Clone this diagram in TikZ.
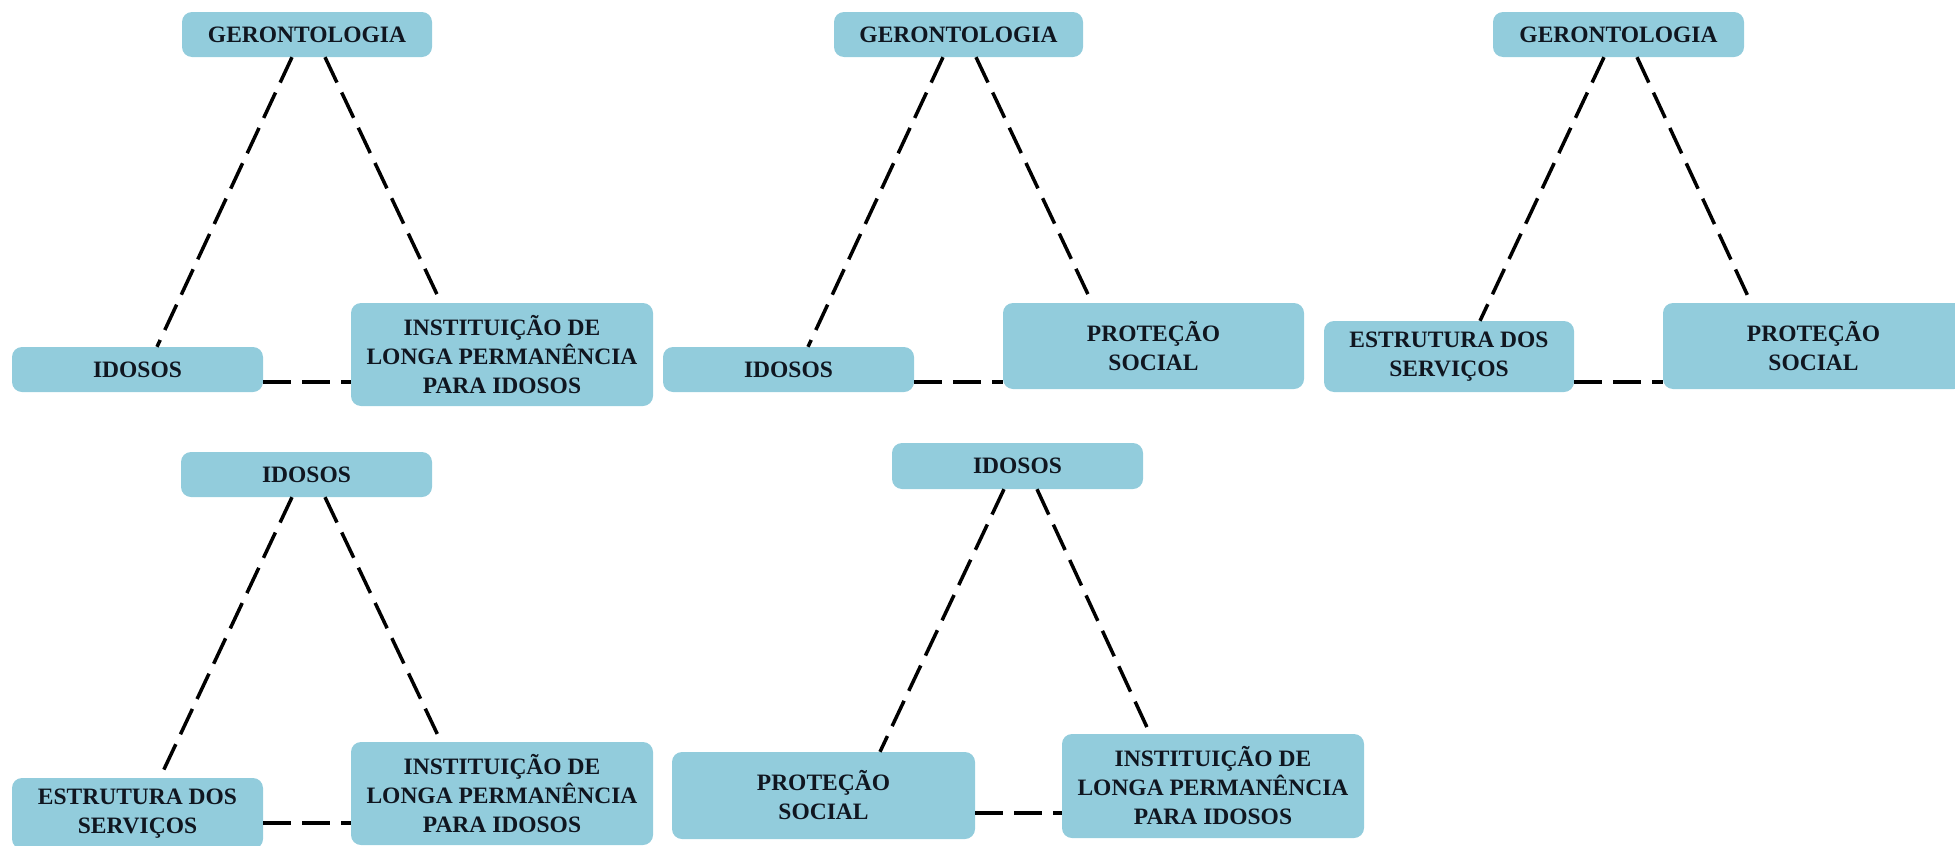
\documentclass[tikz,border=0pt]{standalone}
\usepackage{fontspec}
\setmainfont{Liberation Serif}
\definecolor{boxblue}{RGB}{146,204,220}
\definecolor{textdark}{RGB}{16,22,32}
\tikzset{
  box/.style={fill=boxblue, rounded corners=10pt, inner sep=0pt, align=center,
    font=\fontsize{23.5}{29}\selectfont\bfseries, text=textdark},
  conn/.style={draw=black, line width=3.5pt, dash pattern=on 28pt off 11pt}
}
\begin{document}
\begin{tikzpicture}[x=1pt,y=-1pt]
\useasboundingbox (0,0) rectangle (1955,846);
% ---- triangle 1
\node[box, minimum width=250pt, minimum height=45pt] (g1) at (307,34.5) {GERONTOLOGIA};
\node[box, minimum width=251pt, minimum height=45pt] (i1) at (137.5,369.5) {IDOSOS};
\node[box, minimum width=302pt, minimum height=103pt] (l1) at (502,354.5) {INSTITUIÇÃO DE\\LONGA PERMANÊNCIA\\PARA IDOSOS};
\draw[conn] ([xshift=-15pt]g1.south) -- ([xshift=19.5pt]i1.north);
\draw[conn] ([xshift=18pt]g1.south) -- ([xshift=-61pt]l1.north);
\path ([yshift=-12.5pt]i1.east) coordinate (b1);
\draw[conn] (b1) -- (b1 -| l1.west);
% ---- triangle 2
\node[box, minimum width=249pt, minimum height=45pt] (g2) at (958.5,34.5) {GERONTOLOGIA};
\node[box, minimum width=251pt, minimum height=45pt] (i2) at (788.5,369.5) {IDOSOS};
\node[box, minimum width=301pt, minimum height=86pt] (p2) at (1153.5,346) {PROTEÇÃO\\SOCIAL};
\draw[conn] ([xshift=-15.5pt]g2.south) -- ([xshift=19.5pt]i2.north);
\draw[conn] ([xshift=17.5pt]g2.south) -- ([xshift=-61.5pt]p2.north);
\path ([yshift=-12.5pt]i2.east) coordinate (b2);
\draw[conn] (b2) -- (b2 -| p2.west);
% ---- triangle 3
\node[box, minimum width=251pt, minimum height=45pt] (g3) at (1618.5,34.5) {GERONTOLOGIA};
\node[box, minimum width=250pt, minimum height=71pt] (e3) at (1449,356.5) {ESTRUTURA DOS\\SERVIÇOS};
\node[box, minimum width=301pt, minimum height=86pt] (p3) at (1813.5,346) {PROTEÇÃO\\SOCIAL};
\draw[conn] ([xshift=-14.5pt]g3.south) -- ([xshift=31pt]e3.north);
\draw[conn] ([xshift=18.5pt]g3.south) -- ([xshift=-62.5pt]p3.north);
\path ([yshift=-25.5pt]e3.east) coordinate (b3);
\draw[conn] (b3) -- (b3 -| p3.west);
% ---- triangle 4
\node[box, minimum width=251pt, minimum height=45pt] (i4) at (306.5,474.5) {IDOSOS};
\node[box, minimum width=251pt, minimum height=71pt] (e4) at (137.5,813.5) {ESTRUTURA DOS\\SERVIÇOS};
\node[box, minimum width=302pt, minimum height=103pt] (l4) at (502,793.5) {INSTITUIÇÃO DE\\LONGA PERMANÊNCIA\\PARA IDOSOS};
\draw[conn] ([xshift=-14.5pt]i4.south) -- ([xshift=22.5pt]e4.north);
\draw[conn] ([xshift=18.5pt]i4.south) -- ([xshift=-61pt]l4.north);
\path ([yshift=-9.5pt]e4.east) coordinate (b4);
\draw[conn] (b4) -- (b4 -| l4.west);
% ---- triangle 5
\node[box, minimum width=251pt, minimum height=46pt] (i5) at (1017.5,466) {IDOSOS};
\node[box, minimum width=303pt, minimum height=87pt] (p5) at (823.5,795.5) {PROTEÇÃO\\SOCIAL};
\node[box, minimum width=302pt, minimum height=104pt] (l5) at (1213,786) {INSTITUIÇÃO DE\\LONGA PERMANÊNCIA\\PARA IDOSOS};
\draw[conn] ([xshift=-13.5pt]i5.south) -- ([xshift=56.5pt]p5.north);
\draw[conn] ([xshift=19.5pt]i5.south) -- ([xshift=-63pt]l5.north);
\path ([yshift=-17.5pt]p5.east) coordinate (b5);
\draw[conn] (b5) -- (b5 -| l5.west);
\end{tikzpicture}
\end{document}
